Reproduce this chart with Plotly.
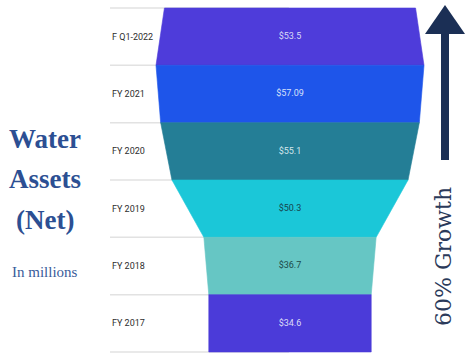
import plotly.graph_objects as go

# Water assets (net), in millions of dollars
periods = ["F Q1-2022", "FY 2021", "FY 2020", "FY 2019", "FY 2018", "FY 2017"]
values = [53.5, 57.09, 55.1, 50.3, 36.7, 34.6]
fill_colors = ["#4E3CDA", "#1E55EA", "#247E96", "#1BC7D8", "#66C6C4", "#4B3BD9"]
label_colors = ["#D9DBF7", "#D6E0FA", "#D3E6EC", "#17454D", "#1B4A4A", "#DCDCF8"]

W, H = 466, 353
PX_PER_UNIT = 268 / 57.09          # horizontal scale of the funnel
CENTER_PX = 290                    # funnel axis position
TOP_PX, ROW_PX = 8, 57.33          # first row edge and row height

x_range = [-CENTER_PX / PX_PER_UNIT, (W - CENTER_PX) / PX_PER_UNIT]
y_range = [len(periods) - 0.5 + (H - TOP_PX - ROW_PX * len(periods)) / ROW_PX,
           -0.5 - TOP_PX / ROW_PX]

fig = go.Figure()

# Each row is a band whose width runs from its own value to the next one
for i, (v, c) in enumerate(zip(values, fill_colors)):
    v_next = values[i + 1] if i + 1 < len(values) else v
    fig.add_trace(go.Scatter(
        x=[-v / 2, v / 2, v_next / 2, -v_next / 2, -v / 2],
        y=[i - 0.5, i - 0.5, i + 0.5, i + 0.5, i - 0.5],
        mode="lines", fill="toself", fillcolor=c,
        line=dict(width=0.6, color=c), hoverinfo="skip", showlegend=False,
    ))

# Value labels in the middle of each band
fig.add_trace(go.Scatter(
    x=[0] * len(values), y=list(range(len(values))),
    mode="text", text=[f"${v:g}" for v in values],
    textfont=dict(family="Roboto", size=9, color=label_colors),
    hoverinfo="skip", showlegend=False,
))

shapes = []
# Row separators on the left side
for k in range(len(periods) + 1):
    shapes.append(dict(type="line", xref="paper", yref="y",
                       x0=110 / W, x1=0.62, y0=k - 0.5, y1=k - 0.5,
                       line=dict(color="#E2E2E2", width=1.5), layer="below"))

# Growth arrow on the right
def px(x):
    return x / W

def py(y):
    return 1 - y / H

navy = "#1B2F55"
shapes.append(dict(type="rect", xref="paper", yref="paper",
                   x0=px(441), x1=px(449), y0=py(160), y1=py(30),
                   fillcolor=navy, line=dict(width=0)))
shapes.append(dict(type="path", xref="paper", yref="paper",
                   path=f"M {px(425)},{py(34)} L {px(445)},{py(5)} L {px(465)},{py(34)} Z",
                   fillcolor=navy, line=dict(width=0)))

annotations = []
# Period labels
for i, p in enumerate(periods):
    annotations.append(dict(text=p, xref="paper", yref="y", x=110 / W, y=i,
                            xanchor="left", yanchor="middle", showarrow=False,
                            font=dict(family="Roboto", size=9, color="#2E2E2E")))

# Title block on the left
title_blue = "#2C4F93"
for txt, ypix in [("<b>Water</b>", 139), ("<b>Assets</b>", 179), ("<b>(Net)</b>", 220)]:
    annotations.append(dict(text=txt, xref="paper", yref="paper", x=px(45), y=py(ypix),
                            xanchor="center", yanchor="middle", showarrow=False,
                            font=dict(family="Liberation Serif", size=27, color=title_blue)))
annotations.append(dict(text="In millions", xref="paper", yref="paper", x=px(45), y=py(272),
                        xanchor="center", yanchor="middle", showarrow=False,
                        font=dict(family="Liberation Serif", size=15, color="#3A5C9A")))

annotations.append(dict(text="60% Growth", xref="paper", yref="paper", x=px(443), y=py(257),
                        xanchor="center", yanchor="middle", showarrow=False, textangle=-90,
                        font=dict(family="DejaVu Serif", size=22, color="#2B3A5A")))

fig.update_layout(
    width=W, height=H,
    margin=dict(l=0, r=0, t=0, b=0),
    paper_bgcolor="white", plot_bgcolor="white",
    xaxis=dict(range=x_range, visible=False, fixedrange=True),
    yaxis=dict(range=y_range, visible=False, fixedrange=True),
    shapes=shapes, annotations=annotations,
)

fig.write_html("out.html")
